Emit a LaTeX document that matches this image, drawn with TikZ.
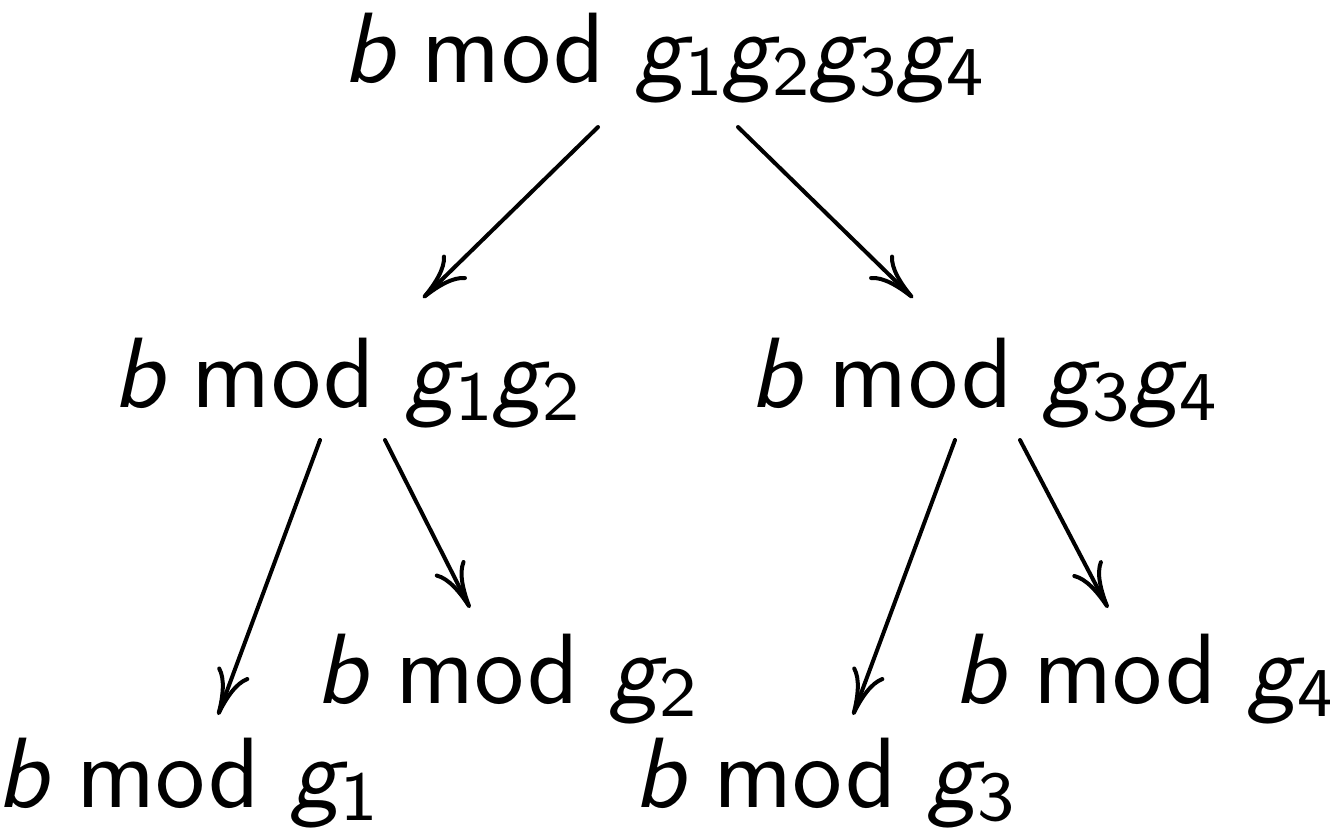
\documentclass[tikz,border=0pt]{standalone}
\usetikzlibrary{calc,arrows.meta}
\newcommand\cmsans{\fontencoding{OT1}\fontfamily{cmss}\selectfont}
\newcommand\gsub[1]{\textit{g}\kern-1.1pt\raisebox{-1.3pt}{\fontsize{7.5}{8}\selectfont #1}}
\newcommand\bmodterm[1]{\textit{b}\/\hspace{0.25em}mod\hspace{0.3em}#1}
\begin{document}
\begin{tikzpicture}[x=0.1pt, y=-0.1pt,
  term/.style={anchor=base, inner sep=0pt, font=\cmsans},
  arr/.style={-{Computer Modern Rightarrow[length=4.6pt, width=3.4pt]},
    line width=0.4pt, line cap=round}]

  % page frame
  \useasboundingbox (0,0) rectangle (1330,827);

  % Top
  \node[term] (g1234) at (663, 82) {\bmodterm{\gsub1\gsub2\gsub3\gsub4}};

  % Middle row
  \node[term] (g12) at (346, 407) {\bmodterm{\gsub1\gsub2}};
  \node[term] (g34) at (983, 407) {\bmodterm{\gsub3\gsub4}};

  % Leaves
  \node[term] (g1) at (187, 807) {\bmodterm{\gsub1}};
  \node[term] (g2) at (506, 703) {\bmodterm{\gsub2}};
  \node[term] (g3) at (824, 807) {\bmodterm{\gsub3}};
  \node[term] (g4) at (1144, 703) {\bmodterm{\gsub4}};

  % Arrows
  \draw[arr] ($(g1234.base)+(-65,45)$) -- ($(g12.base)+(77,-109)$);
  \draw[arr] ($(g1234.base)+(75,45)$)  -- ($(g34.base)+(-70,-109)$);
  \draw[arr] ($(g12.base)+(-26,33)$)  -- ($(g1.base)+(31,-92)$);
  \draw[arr] ($(g12.base)+(39,33)$)   -- ($(g2.base)+(-36,-95)$);
  \draw[arr] ($(g34.base)+(-28,33)$)  -- ($(g3.base)+(29,-92)$);
  \draw[arr] ($(g34.base)+(37,33)$)   -- ($(g4.base)+(-36,-95)$);

\end{tikzpicture}
\end{document}
